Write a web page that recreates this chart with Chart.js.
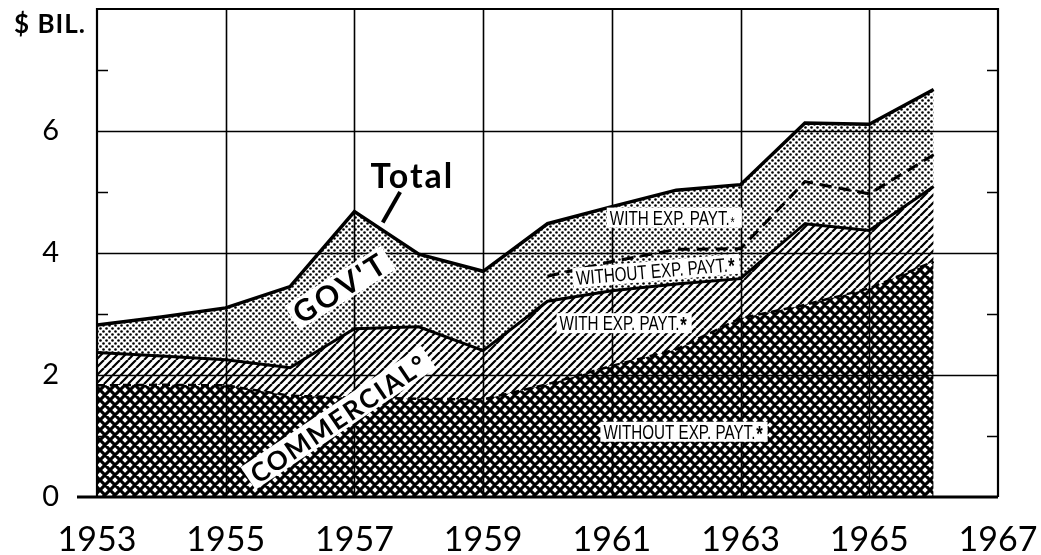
<!DOCTYPE html>
<html>
<head>
<meta charset="utf-8">
<script src="https://cdn.jsdelivr.net/npm/chart.js"></script>
<style>
  html, body { margin: 0; padding: 0; background: #fff; }
  #wrap { width: 1041px; height: 555px; }
</style>
</head>
<body>
<div id="wrap"><canvas id="chart"></canvas></div>
<script>
// Values, $ billions (cumulative levels of each boundary)
const years = [1953, 1954, 1955, 1956, 1957, 1958, 1959, 1960, 1961, 1962, 1963, 1964, 1965, 1966];
const commercialWithoutExp = [1.83, 1.84, 1.83, 1.66, 1.63, 1.61, 1.60, 1.85, 2.15, 2.42, 2.93, 3.15, 3.42, 3.86];
const commercialTotal = [2.37, 2.31, 2.25, 2.12, 2.76, 2.79, 2.40, 3.21, 3.38, 3.49, 3.58, 4.48, 4.37, 5.09];
const govWithoutExp = [null, null, null, null, null, null, null, 3.62, 3.86, 4.06, 4.07, 5.17, 4.97, 5.61];
const total = [2.82, 2.95, 3.10, 3.45, 4.68, 3.98, 3.70, 4.48, 4.76, 5.03, 5.12, 6.13, 6.11, 6.68];

// axis ticks
const xTicks = [1953, 1955, 1957, 1959, 1961, 1963, 1965, 1967];
const yTicks = [0, 2, 4, 6];
const yGrid = [2, 4, 6];
const yMinor = [1, 3, 5, 7];
const xGrid = [1955, 1957, 1959, 1961, 1963, 1965];

const toPoints = vals => years.map((yr, i) => ({ x: yr, y: vals[i] }));

// --- fill patterns (black ink on transparent) ---
function makePattern(size, draw) {
    const c = document.createElement('canvas');
    c.width = c.height = size;
    const g = c.getContext('2d');
    g.strokeStyle = '#000';
    g.fillStyle = '#000';
    draw(g, size);
    return g.createPattern(c, 'repeat');
}

const crossHatch = makePattern(10, (g, s) => {
    g.lineWidth = 3.1;
    g.beginPath();
    for (let k = -1; k <= 1; k++) {
        g.moveTo(k * s, 0); g.lineTo(k * s + s, s);
        g.moveTo(k * s + s, 0); g.lineTo(k * s, s);
    }
    g.stroke();
});

const diagHatch = makePattern(8, (g, s) => {
    g.lineWidth = 2.2;
    g.beginPath();
    for (let k = -1; k <= 1; k++) {
        g.moveTo(k * s, s); g.lineTo(k * s + s, 0);
    }
    g.stroke();
});

const dots = makePattern(6, (g) => {
    [[1.5, 1.5], [4.5, 4.5]].forEach(([x, y]) => {
        g.beginPath();
        g.arc(x, y, 1.3, 0, Math.PI * 2);
        g.fill();
    });
});

// text label in data coords, optional rotation / white box / asterisk
function drawLabel(chart, text, xv, yv, o) {
    const { ctx, scales: { x, y } } = chart;
    ctx.save();
    ctx.translate(x.getPixelForValue(xv), y.getPixelForValue(yv));
    ctx.rotate((o.angle || 0) * Math.PI / 180);
    ctx.scale(o.sx || 1, 1);
    ctx.font = o.font;
    ctx.letterSpacing = (o.spacing || 0) + 'px';
    const m = ctx.measureText(text);
    const w = m.width;
    const asc = m.actualBoundingBoxAscent;
    if (o.box) {
        const px = o.padX || 4, py = o.padY || 3;
        ctx.fillStyle = '#fff';
        ctx.fillRect(-w / 2 - px, -asc / 2 - py, w + 2 * px + (o.star ? 12 : 0), asc + 2 * py);
    }
    ctx.fillStyle = '#000';
    ctx.textAlign = 'center';
    ctx.textBaseline = 'alphabetic';
    ctx.fillText(text, 0, asc / 2);
    if (o.star) {
        ctx.letterSpacing = '0px';
        ctx.font = o.star;
        ctx.textAlign = 'left';
        ctx.fillText('*', w / 2 + 1, asc / 2 + 2);
    }
    ctx.restore();
}

const framePlugin = {
    id: 'frame',
    beforeDatasetsDraw(chart) {
        const { ctx, chartArea: a, scales: { x, y } } = chart;
        ctx.save();
        ctx.strokeStyle = '#000';
        ctx.lineWidth = 1.6;
        ctx.beginPath();
        xGrid.forEach(v => {
            const px = Math.round(x.getPixelForValue(v)) + 0.5;
            ctx.moveTo(px, a.top); ctx.lineTo(px, a.bottom);
        });
        yGrid.forEach(v => {
            const py = Math.round(y.getPixelForValue(v)) + 0.5;
            ctx.moveTo(a.left, py); ctx.lineTo(a.right, py);
        });
        ctx.stroke();
        ctx.restore();
    },
    afterDatasetsDraw(chart) {
        const { ctx, chartArea: a, scales: { x, y } } = chart;
        ctx.save();
        ctx.strokeStyle = '#000';
        // frame
        ctx.lineWidth = 2.2;
        ctx.beginPath();
        ctx.moveTo(a.left, a.bottom); ctx.lineTo(a.left, a.top);
        ctx.lineTo(a.right, a.top); ctx.lineTo(a.right, a.bottom);
        ctx.stroke();
        // minor ticks inside frame
        ctx.lineWidth = 1.6;
        ctx.beginPath();
        yMinor.forEach(v => {
            const py = Math.round(y.getPixelForValue(v)) + 0.5;
            ctx.moveTo(a.left, py); ctx.lineTo(a.left + 11, py);
            ctx.moveTo(a.right - 11, py); ctx.lineTo(a.right, py);
        });
        ctx.stroke();
        // baseline, extends left of the frame
        ctx.lineWidth = 3;
        ctx.beginPath();
        ctx.moveTo(a.left - 20, a.bottom); ctx.lineTo(a.right, a.bottom);
        ctx.stroke();

        // unit title
        ctx.fillStyle = '#000';
        ctx.font = 'bold 26px Lato';
        ctx.letterSpacing = '1px';
        ctx.textAlign = 'right';
        ctx.textBaseline = 'alphabetic';
        ctx.fillText('$ BIL.', a.left - 11, a.top + 24);
        ctx.restore();

        // "Total" and its leader line
        ctx.save();
        ctx.strokeStyle = '#000';
        ctx.lineWidth = 4;
        ctx.beginPath();
        ctx.moveTo(x.getPixelForValue(1957.71), y.getPixelForValue(5.0));
        ctx.lineTo(x.getPixelForValue(1957.44), y.getPixelForValue(4.5));
        ctx.stroke();
        ctx.restore();
        drawLabel(chart, 'Total', 1957.9, 5.28, { font: 'bold 34px Lato', spacing: 2 });

        drawLabel(chart, "GOV'T", 1956.78, 3.43, { font: 'bold 30px Lato', spacing: 3, angle: -32, box: true, padX: 4, padY: 3 });
        drawLabel(chart, 'COMMERCIAL°', 1956.75, 1.30, { font: 'bold 26px Lato', spacing: 2, angle: -34, box: true, padX: 5, padY: 3 });

        const small = '20px "Liberation Sans"';
        const star = 'bold 22px "Liberation Sans"';
        drawLabel(chart, 'WITH EXP. PAYT.', 1961.90, 4.58, { font: small, sx: 0.76, box: true, padX: 4, padY: 3, star: '14px "Liberation Sans"' });
        drawLabel(chart, 'WITHOUT EXP. PAYT.', 1961.62, 3.70, { font: small, sx: 0.76, angle: -5, box: true, padX: 4, padY: 3, star: star });
        drawLabel(chart, 'WITH EXP. PAYT.', 1961.12, 2.85, { font: small, sx: 0.76, box: true, padX: 4, padY: 3, star: star });
        drawLabel(chart, 'WITHOUT EXP. PAYT.', 1962.05, 1.07, { font: small, sx: 0.76, box: true, padX: 4, padY: 3, star: star });
    }
};

new Chart(document.getElementById('chart'), {
    type: 'line',
    data: {
        datasets: [
            {
                // commercial, without exp. payt. (cross-hatched)
                data: toPoints(commercialWithoutExp),
                borderColor: '#000',
                borderWidth: 2.5,
                borderDash: [8, 5],
                backgroundColor: crossHatch,
                fill: 'origin'
            },
            {
                // commercial, with exp. payt. (diagonal hatch)
                data: toPoints(commercialTotal),
                borderColor: '#000',
                borderWidth: 3,
                backgroundColor: diagHatch,
                fill: '-1'
            },
            {
                // gov't split: without / with exp. payt.
                data: toPoints(govWithoutExp),
                borderColor: '#000',
                borderWidth: 3,
                borderDash: [12, 7],
                fill: false
            },
            {
                // total (gov't dotted above commercial)
                data: toPoints(total),
                borderColor: '#000',
                borderWidth: 3.5,
                backgroundColor: dots,
                fill: { target: 1 }
            }
        ]
    },
    options: {
        responsive: true,
        maintainAspectRatio: false,
        animation: false,
        layout: { padding: { top: 9, right: 43, left: 0, bottom: 0 } },
        elements: { point: { radius: 0 }, line: { tension: 0 } },
        plugins: {
            legend: { display: false },
            tooltip: { enabled: false },
            filler: { propagate: false }
        },
        scales: {
            x: {
                type: 'linear',
                min: 1953,
                max: 1967,
                afterBuildTicks: s => { s.ticks = xTicks.map(v => ({ value: v })); },
                afterFit: s => { s.height = 58; s.paddingLeft = 0; s.paddingRight = 0; },
                grid: { display: false, drawTicks: false },
                border: { display: false },
                ticks: {
                    autoSkip: false,
                    maxRotation: 0,
                    padding: 23,
                    color: '#000',
                    font: { family: 'Lato', size: 34 },
                    callback: v => String(v)
                }
            },
            y: {
                min: 0,
                max: 8,
                afterBuildTicks: s => { s.ticks = yTicks.map(v => ({ value: v })); },
                afterFit: s => { s.width = 97; s.paddingTop = 0; s.paddingBottom = 0; },
                grid: { display: false, drawTicks: false },
                border: { display: false },
                ticks: {
                    padding: 38,
                    color: '#000',
                    font: { family: 'Lato', size: 29 },
                    callback: v => String(v)
                }
            }
        }
    },
    plugins: [framePlugin]
});
</script>
</body>
</html>
